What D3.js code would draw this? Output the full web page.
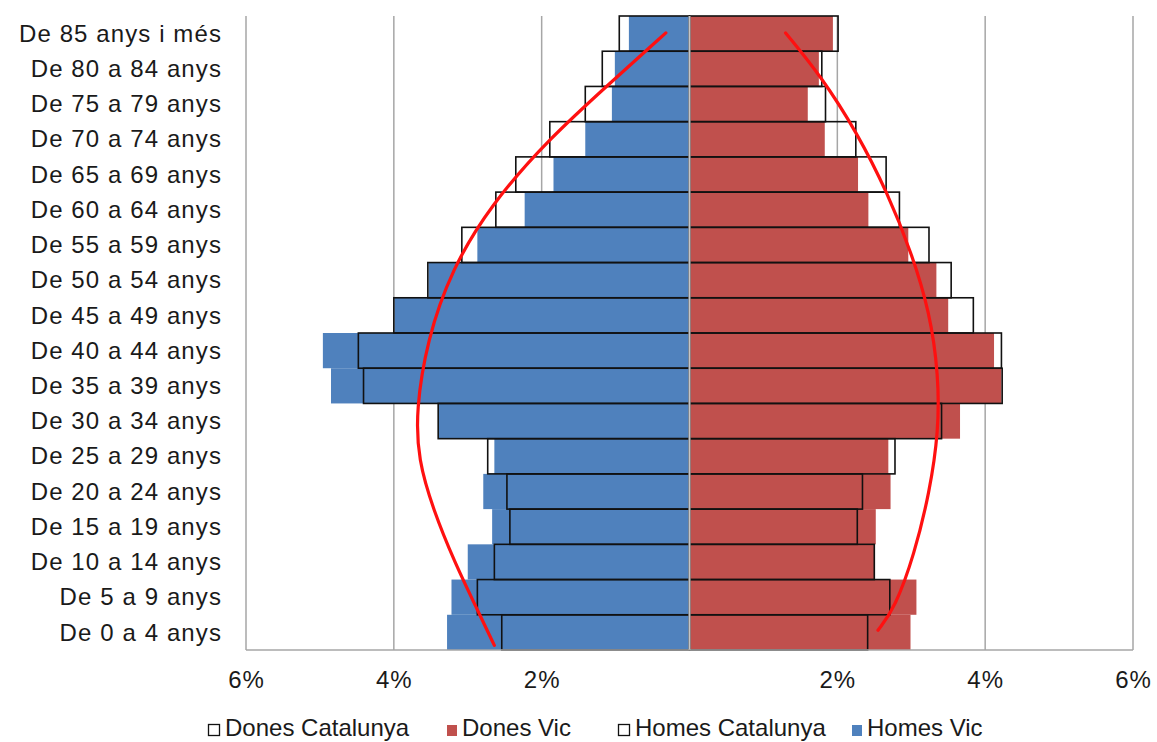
<!DOCTYPE html>
<html>
<head>
<meta charset="utf-8">
<script src="https://cdn.jsdelivr.net/npm/d3@7"></script>
<style>
  html, body { margin: 0; padding: 0; background: #fff; }
  svg { display: block; }
</style>
</head>
<body>
<svg id="chart" width="1157" height="742"></svg>
<script>
// ---- data (top row first) ----
const categories = ["De 85 anys i més","De 80 a 84 anys","De 75 a 79 anys","De 70 a 74 anys","De 65 a 69 anys","De 60 a 64 anys","De 55 a 59 anys","De 50 a 54 anys","De 45 a 49 anys","De 40 a 44 anys","De 35 a 39 anys","De 30 a 34 anys","De 25 a 29 anys","De 20 a 24 anys","De 15 a 19 anys","De 10 a 14 anys","De 5 a 9 anys","De 0 a 4 anys"];
const homesVic = [0.82,1.01,1.05,1.41,1.84,2.23,2.87,3.53,3.99,4.96,4.85,3.39,2.64,2.79,2.67,3.00,3.22,3.28];
const homesCat = [0.95,1.18,1.41,1.89,2.35,2.62,3.08,3.54,4.00,4.48,4.41,3.40,2.73,2.47,2.43,2.64,2.87,2.54];
const donesVic = [1.94,1.75,1.60,1.83,2.28,2.42,2.96,3.34,3.50,4.12,4.22,3.66,2.69,2.72,2.52,2.51,3.07,2.99];
const donesCat = [2.01,1.79,1.84,2.25,2.66,2.84,3.24,3.54,3.84,4.22,4.23,3.41,2.78,2.34,2.27,2.50,2.71,2.41];
const tickValues = [-6,-4,-2,0,2,4,6];
const legendItems = ["Dones Catalunya","Dones Vic","Homes Catalunya","Homes Vic"];
// hand-drawn red annotation curves: [percent (signed), row position from top]
const curveLeft = [[-0.32,0.48],[-1.03,1.82],[-1.92,3.52],[-2.69,5.37],[-3.22,7.2],[-3.55,9.2],[-3.70,11.2],[-3.67,12.6],[-3.47,14.0],[-3.18,15.5],[-2.86,16.9],[-2.64,17.87]];
const curveRight = [[1.30,0.48],[1.77,1.68],[2.27,3.32],[2.68,5.03],[3.00,6.7],[3.25,8.4],[3.37,10.2],[3.37,11.8],[3.25,13.5],[3.04,15.3],[2.78,16.8],[2.55,17.44]];

(function () {
// ---- layout ----
const svg = d3.select("#chart");
const mLeft = 246, mRight = 1133, mTop = 16, mBottom = 650;
const blue = "#4F81BD", red = "#C0504D", grid = "#a6a6a6";
const font = "'Liberation Sans', Arial, sans-serif";

const x = d3.scaleLinear().domain([-6, 6]).range([mLeft, mRight]);
const y = d3.scaleBand().domain(categories).range([mTop, mBottom]).padding(0);
const yRow = d3.scaleLinear().domain([0, categories.length]).range([mTop, mBottom]);

// gridlines (vertical)
svg.append("g").selectAll("line").data(tickValues.filter(d => d !== 0)).join("line")
  .attr("x1", d => x(d)).attr("x2", d => x(d))
  .attr("y1", mTop).attr("y2", mBottom)
  .attr("stroke", grid).attr("stroke-width", 1.5);

// Vic filled bars
svg.append("g").selectAll("rect").data(categories).join("rect")
  .attr("x", (d, i) => x(-homesVic[i])).attr("width", (d, i) => x(0) - x(-homesVic[i]))
  .attr("y", d => y(d)).attr("height", y.bandwidth())
  .attr("fill", blue);
svg.append("g").selectAll("rect").data(categories).join("rect")
  .attr("x", x(0)).attr("width", (d, i) => x(donesVic[i]) - x(0))
  .attr("y", d => y(d)).attr("height", y.bandwidth())
  .attr("fill", red);

// Catalunya outline bars
svg.append("g").selectAll("rect").data(categories).join("rect")
  .attr("x", (d, i) => x(-homesCat[i])).attr("width", (d, i) => x(0) - x(-homesCat[i]))
  .attr("y", d => y(d)).attr("height", y.bandwidth())
  .attr("fill", "none").attr("stroke", "#111").attr("stroke-width", 1.6);
svg.append("g").selectAll("rect").data(categories).join("rect")
  .attr("x", x(0)).attr("width", (d, i) => x(donesCat[i]) - x(0))
  .attr("y", d => y(d)).attr("height", y.bandwidth())
  .attr("fill", "none").attr("stroke", "#111").attr("stroke-width", 1.6);

// center axis line
svg.append("line")
  .attr("x1", x(0)).attr("x2", x(0)).attr("y1", mTop).attr("y2", mBottom)
  .attr("stroke", "#c4c4c4").attr("stroke-width", 2);

// bottom axis line
svg.append("line")
  .attr("x1", mLeft).attr("x2", mRight).attr("y1", mBottom).attr("y2", mBottom)
  .attr("stroke", grid).attr("stroke-width", 1.5);

// red annotation curves
const line = d3.line().x(d => x(d[0])).y(d => yRow(d[1])).curve(d3.curveBasis);
[curveLeft, curveRight].forEach(c => {
  svg.append("path").attr("d", line(c))
    .attr("fill", "none").attr("stroke", "#ff1010").attr("stroke-width", 3.2)
    .attr("stroke-linecap", "round");
});

// y axis labels
const yAxis = d3.axisLeft(y).tickSize(0).tickPadding(0);
const gy = svg.append("g").attr("transform", `translate(${mLeft - 24},0)`).call(yAxis);
gy.select(".domain").remove();
gy.selectAll("text")
  .attr("font-family", font).attr("font-size", 24).attr("fill", "#1a1a1a")
  .style("letter-spacing", "1.1px").attr("dy", "0.34em");

// x axis labels
const xAxis = d3.axisBottom(x).tickValues(tickValues.filter(d => d !== 0))
  .tickSize(0).tickPadding(0).tickFormat(d => Math.abs(d) + "%");
const gx = svg.append("g").attr("transform", `translate(0,${mBottom + 38})`).call(xAxis);
gx.select(".domain").remove();
gx.selectAll("text")
  .attr("font-family", font).attr("font-size", 24).attr("fill", "#1a1a1a")
  .style("letter-spacing", "1px").attr("dy", 0).attr("y", 0);

// legend
const legendX = [208, 447, 618, 852];
const lg = svg.append("g");
legendItems.forEach((name, i) => {
  const g = lg.append("g").attr("transform", `translate(${legendX[i]},0)`);
  const outline = name.indexOf("Catalunya") >= 0;
  if (outline) {
    g.append("rect").attr("x", 0.5).attr("y", 724.5).attr("width", 11).attr("height", 11)
      .attr("fill", "#fff").attr("stroke", "#111").attr("stroke-width", 1.3);
  } else {
    g.append("rect").attr("x", 0).attr("y", 725).attr("width", 10).attr("height", 11)
      .attr("fill", name.indexOf("Dones") >= 0 ? red : blue);
  }
  g.append("text").attr("x", outline ? 17 : 15).attr("y", 736)
    .attr("font-family", font).attr("font-size", 24).attr("fill", "#1a1a1a")
    .text(name);
});
})();
</script>
</body>
</html>
